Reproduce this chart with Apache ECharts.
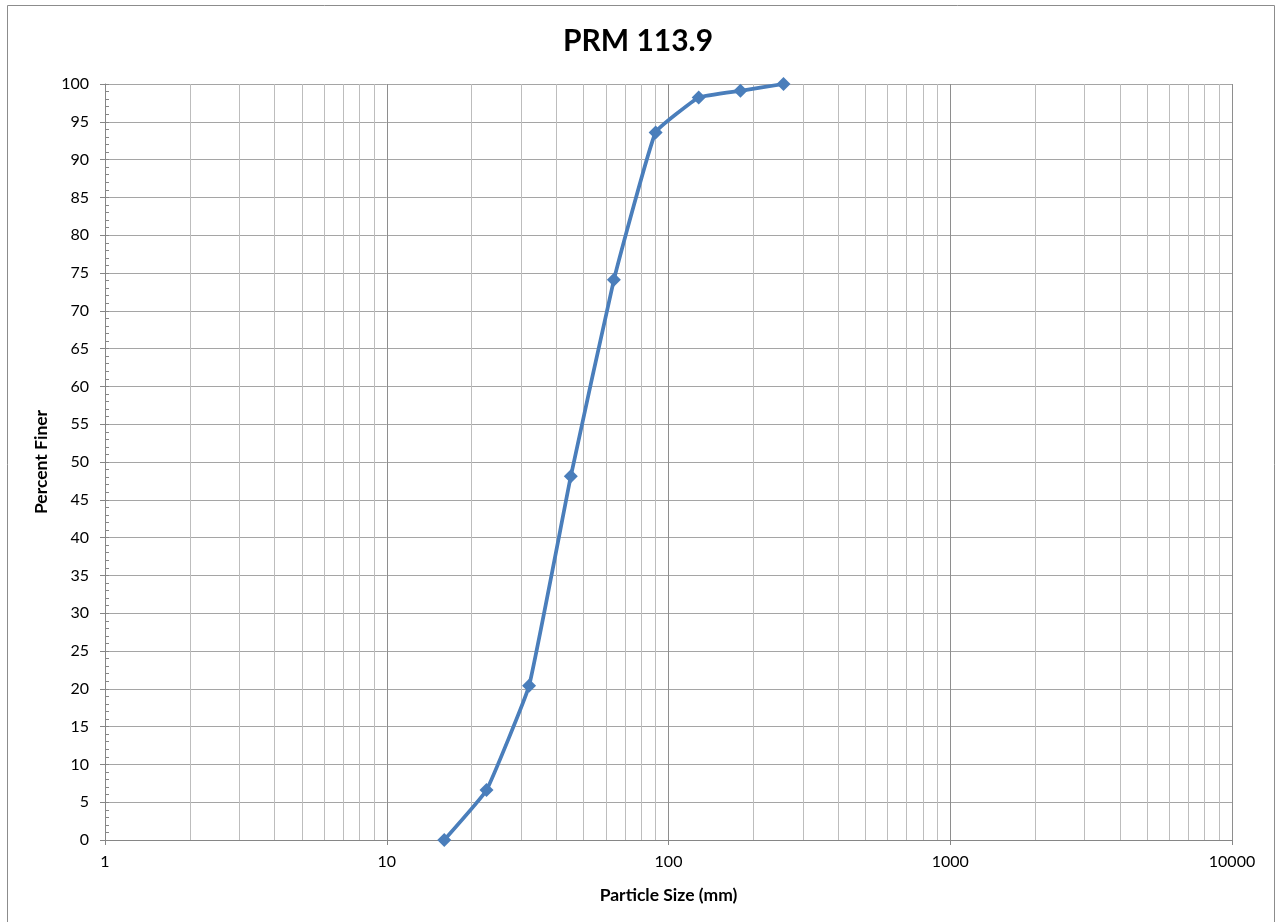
<!DOCTYPE html>
<html>
<head>
<meta charset="utf-8">
<script src="https://cdn.jsdelivr.net/npm/echarts@6/dist/echarts.min.js"></script>
<style>
  html, body { margin: 0; padding: 0; background: #fff; }
  #chart { width: 1276px; height: 922px; }
</style>
</head>
<body>
<div id="chart"></div>
<script>
// sieve sizes (mm) and percent finer
const sizes = [16, 22.6, 32, 45, 64, 90, 128, 180, 256];
const percentFiner = [0, 6.6, 20.4, 48.1, 74.1, 93.6, 98.2, 99.1, 100];
const decades = [1, 10, 100, 1000];

// minor vertical gridlines at 2..9 of each decade
const minorLines = [];
decades.forEach((d) => {
  for (let k = 2; k <= 9; k++) minorLines.push({ xAxis: d * k });
});

const font = "Lato, 'Liberation Sans', sans-serif";
const chart = echarts.init(document.getElementById("chart"));

chart.setOption({
  animation: false,
  title: {
    text: "PRM 113.9",
    left: "center",
    top: 21,
    textStyle: { fontFamily: font, fontSize: 30, fontWeight: "bold", color: "#000" },
  },
  graphic: [
    {
      type: "rect",
      shape: { x: 7.5, y: 5.5, width: 1267, height: 940 },
      style: { fill: null, stroke: "#8c8c8c", lineWidth: 1 },
      silent: true,
    },
  ],
  grid: { left: 105, right: 44, top: 84, bottom: 82 },
  xAxis: {
    type: "log",
    logBase: 10,
    min: 1,
    max: 10000,
    name: "Particle Size (mm)",
    nameLocation: "middle",
    nameGap: 46,
    nameTextStyle: { fontFamily: font, fontSize: 17.5, fontWeight: "bold", color: "#000" },
    axisLine: { lineStyle: { color: "#868686", width: 1 } },
    axisTick: { show: true, length: 5, lineStyle: { color: "#868686" } },
    axisLabel: {
      fontFamily: font,
      fontSize: 16,
      color: "#000",
      margin: 14,
      formatter: (v) => String(Math.round(v)),
    },
    splitLine: { show: true, lineStyle: { color: "#8e8e8e", width: 1 } },
  },
  yAxis: [
    {
      type: "value",
      min: 0,
      max: 100,
      interval: 5,
      name: "Percent Finer",
      nameLocation: "middle",
      nameGap: 55,
      nameTextStyle: { fontFamily: font, fontSize: 17.5, fontWeight: "bold", color: "#000" },
      axisLine: { show: true, lineStyle: { color: "#868686", width: 1 } },
      axisTick: { show: true, length: 5, lineStyle: { color: "#868686" } },
      axisLabel: { fontFamily: font, fontSize: 16, color: "#000", margin: 16 },
      splitLine: { show: true, lineStyle: { color: "#a5a5a5", width: 1 } },
    },
    {
      type: "value",
      position: "left",
      min: 0,
      max: 100,
      interval: 1,
      axisLine: { show: false },
      axisTick: { show: true, inside: true, length: 4, lineStyle: { color: "#868686" } },
      axisLabel: { show: false },
      splitLine: { show: false },
    },
  ],
  series: [
    {
      name: "grid",
      type: "line",
      data: [],
      silent: true,
      z: 1,
      markLine: {
        silent: true,
        symbol: "none",
        label: { show: false },
        lineStyle: { color: "#bdbdbd", width: 1, type: "solid" },
        data: minorLines,
      },
    },
    {
      name: "PRM 113.9",
      type: "line",
      z: 5,
      smooth: 0.1,
      data: sizes.map((s, i) => [s, percentFiner[i]]),
      symbol: "diamond",
      symbolSize: 14,
      lineStyle: { color: "#4a7ebb", width: 3.75 },
      itemStyle: { color: "#4a7ebb" },
    },
  ],
});
</script>
</body>
</html>
